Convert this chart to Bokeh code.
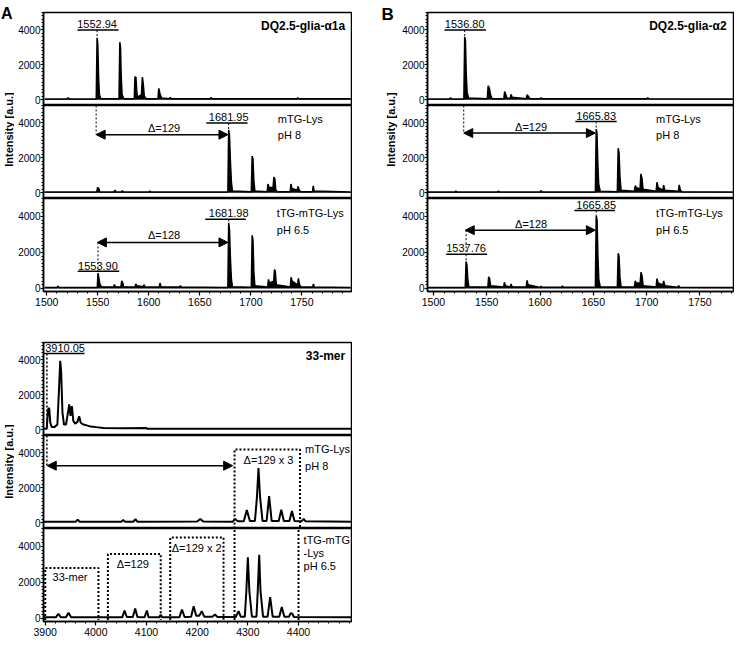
import math
from bokeh.plotting import figure
from bokeh.layouts import row, column
from bokeh.models import Range1d, FixedTicker, Label, Arrow, NormalHead
from bokeh.embed import file_html
from bokeh.resources import INLINE

FONT = "Liberation Sans"

# ---------------- axis tick values ----------------
y_ticks = [0, 2000, 4000]
y_minor = list(range(0, 5001, 200))
ab_x_ticks = [1500, 1550, 1600, 1650, 1700, 1750]
ab_x_minor = list(range(1500, 1800, 10))
c_x_ticks = [3900, 4000, 4100, 4200, 4300, 4400]
c_x_minor = list(range(3900, 4501, 20))

# ---------------- spectra (m/z, intensity) ----------------
# Panel A: DQ2.5-glia-alpha1a
a1_mz = [
    1498, 1520, 1521, 1522, 1548.5, 1549.3, 1550.0, 1550.8, 1551.6, 1553,
    1570.8, 1571.6, 1572.3, 1573.0, 1573.8, 1575.5, 1585.8, 1586.4, 1587.4, 1588.3,
    1589.2, 1592.8, 1593.7, 1594.6, 1595.6, 1597.5, 1609.0, 1609.8, 1611.0, 1612.5,
    1620, 1621, 1622, 1660, 1661, 1662, 1745, 1746, 1747, 1798]
a1_int = [
    40, 40, 120, 40, 40, 3550, 3200, 1300, 300, 60,
    60, 3300, 3000, 1300, 300, 60, 60, 1300, 1300, 400,
    150, 300, 1300, 900, 200, 60, 60, 650, 350, 100,
    60, 130, 60, 60, 120, 60, 60, 110, 60, 50]

a2_mz = [
    1498, 1549.0, 1549.8, 1551.0, 1552.0, 1566.0, 1567.0, 1568.0, 1573.0, 1574.0,
    1575.0, 1600.0, 1601.0, 1602.0, 1677.5, 1678.3, 1679.1, 1680.0, 1681.0, 1682.0,
    1700.5, 1701.3, 1702.1, 1703.0, 1704.0, 1716.0, 1716.8, 1718.0, 1721.8, 1722.6,
    1723.6, 1724.5, 1726.0, 1738.6, 1739.3, 1740.3, 1745.6, 1746.4, 1747.4, 1749.0,
    1760.5, 1761.2, 1762.0, 1798]
a2_int = [
    40, 40, 300, 250, 40, 40, 150, 40, 40, 120,
    40, 40, 100, 40, 40, 3600, 3300, 1800, 600, 100,
    60, 2100, 1950, 700, 100, 60, 500, 300, 300, 900,
    800, 150, 60, 60, 500, 250, 150, 360, 150, 60,
    60, 400, 100, 40]

a3_mz = [
    1498, 1510, 1511, 1512, 1549.5, 1550.2, 1551.0, 1552.0, 1553.5, 1565.5,
    1566.3, 1567.2, 1572.7, 1573.5, 1574.5, 1575.5, 1586.5, 1587.3, 1588.2, 1594.6,
    1595.4, 1596.4, 1610.2, 1611.0, 1612.0, 1630, 1631, 1632, 1677.5, 1678.3,
    1679.1, 1680.0, 1681.0, 1682.0, 1700.5, 1701.3, 1702.1, 1703.0, 1704.0, 1716.5,
    1717.3, 1718.2, 1722.4, 1723.2, 1724.0, 1725.0, 1738.7, 1739.5, 1740.5, 1745.9,
    1746.7, 1747.6, 1749.0, 1760.6, 1761.4, 1762.3, 1798]
a3_int = [
    50, 50, 120, 50, 50, 850, 600, 250, 100, 80,
    220, 80, 100, 420, 300, 100, 80, 250, 150, 100,
    200, 80, 80, 300, 100, 80, 150, 80, 50, 3650,
    3300, 1700, 500, 100, 60, 2950, 2700, 900, 150, 80,
    500, 300, 400, 1050, 950, 200, 80, 620, 400, 200,
    560, 250, 80, 80, 250, 80, 50]

# Panel B: DQ2.5-glia-alpha2
b1_mz = [
    1494, 1515, 1516, 1517, 1528.5, 1529.3, 1530.0, 1530.8, 1531.6, 1533.0,
    1550.5, 1551.3, 1552.3, 1553.5, 1555.0, 1566.0, 1566.8, 1567.8, 1569.0, 1572.0,
    1572.8, 1573.8, 1587.0, 1587.8, 1589.0, 1590.5, 1600, 1601, 1602, 1700,
    1701, 1702, 1782]
b1_int = [
    40, 40, 110, 40, 40, 3600, 3400, 1400, 400, 100,
    60, 800, 700, 300, 60, 60, 470, 300, 80, 80,
    300, 150, 60, 280, 200, 60, 60, 100, 60, 60,
    100, 60, 40]

b2_mz = [
    1494, 1520, 1521, 1522, 1560, 1561, 1562, 1600, 1601, 1602,
    1651.9, 1652.7, 1653.4, 1654.2, 1655.0, 1656.5, 1672.5, 1673.3, 1674.1, 1675.0,
    1676.0, 1688.5, 1689.3, 1690.3, 1693.8, 1694.6, 1695.6, 1696.6, 1708.9, 1709.7,
    1710.7, 1715.2, 1716.0, 1717.0, 1729.8, 1730.6, 1731.6, 1733.0, 1782]
b2_int = [
    40, 40, 90, 40, 40, 100, 40, 40, 110, 40,
    40, 3650, 3400, 1700, 500, 80, 60, 2550, 2300, 900,
    150, 80, 400, 300, 200, 1080, 850, 200, 80, 600,
    300, 150, 430, 150, 80, 450, 150, 60, 40]

b3_mz = [
    1494, 1529.8, 1530.6, 1531.4, 1532.2, 1533.2, 1551.0, 1551.8, 1552.7, 1553.6,
    1565.8, 1566.6, 1567.5, 1572.0, 1572.8, 1573.7, 1587.0, 1587.8, 1588.8, 1600,
    1601, 1602, 1620, 1621, 1622, 1651.9, 1652.7, 1653.5, 1654.3, 1655.1,
    1656.5, 1672.5, 1673.3, 1674.1, 1675.0, 1676.0, 1688.5, 1689.3, 1690.3, 1693.9,
    1694.7, 1695.7, 1696.7, 1708.9, 1709.7, 1710.7, 1715.2, 1716.0, 1717.0, 1729,
    1730, 1731, 1782]
b3_int = [
    50, 50, 1500, 1300, 500, 100, 80, 650, 550, 150,
    80, 330, 150, 80, 250, 100, 80, 450, 200, 60,
    120, 60, 60, 130, 60, 60, 4050, 3800, 1800, 500,
    80, 80, 1950, 1800, 600, 100, 80, 420, 300, 300,
    900, 700, 150, 80, 550, 300, 200, 420, 150, 60,
    150, 60, 50]

# Panel C: 33-mer
c1_mz = [
    3893, 3903, 3905, 3906.5, 3908, 3910, 3913, 3918, 3924, 3927.5,
    3929.6, 3931.5, 3934, 3937, 3941, 3944.5, 3947.4, 3950, 3952.6, 3955.5,
    3959, 3963.5, 3967.1, 3970, 3975, 3982, 3990, 4000, 4015, 4050,
    4100, 4101, 4505]
c1_int = [
    60, 60, 900, 1250, 1200, 400, 150, 150, 300, 2500,
    3950, 3300, 1000, 300, 300, 900, 1450, 800, 1350, 500,
    350, 450, 770, 400, 300, 250, 180, 150, 100, 80,
    100, 60, 60]

c2_mz = [
    3893, 3960, 3964, 3968, 4050, 4054, 4058, 4074, 4078, 4082,
    4200, 4206, 4212, 4270, 4275, 4280, 4292, 4298, 4304, 4314,
    4318, 4321, 4324, 4329, 4337, 4342, 4347, 4361, 4366, 4371,
    4382, 4387, 4392, 4406, 4410, 4414, 4505]
c2_int = [
    60, 60, 180, 60, 60, 150, 60, 60, 200, 60,
    70, 220, 70, 60, 220, 80, 80, 730, 100, 100,
    1500, 3140, 1500, 100, 100, 1530, 100, 100, 750, 100,
    100, 670, 100, 80, 220, 80, 60]

c3_mz = [
    3893, 3921, 3926, 3931, 3941, 3946, 3951, 4052, 4056.6, 4061,
    4073, 4077.6, 4082, 4096, 4100.7, 4104, 4125, 4128, 4131, 4165,
    4170, 4175, 4188, 4193, 4198, 4204, 4209, 4214, 4230, 4235,
    4240, 4276, 4281.6, 4286, 4294, 4297, 4300, 4303, 4308, 4317,
    4319.5, 4322.4, 4325, 4330, 4339, 4344, 4349, 4362, 4367, 4372,
    4381, 4385, 4388, 4391, 4505]
c3_int = [
    60, 60, 260, 60, 60, 310, 60, 60, 440, 80,
    80, 550, 80, 60, 440, 60, 60, 200, 60, 70,
    500, 80, 100, 680, 150, 150, 400, 100, 100, 220,
    80, 80, 400, 100, 100, 1500, 3400, 1500, 100, 100,
    1500, 3540, 1500, 100, 100, 1180, 100, 100, 630, 100,
    100, 300, 250, 80, 60]

# ---------------- layout constants ----------------
Y_HI = 5000
Y_LO_UPPER = -330     # top / middle rows: room for the "0" tick label
Y_LO_BOTTOM = -170    # bottom rows
FH = 93
A_X = (1496.8, 1798.7)
B_X = (1494.4, 1781.5)
C_X = (3896.6, 4504.6)


def style_axis(ax):
    ax.axis_line_color = "black"
    ax.axis_line_width = 1.5
    ax.major_tick_line_color = "black"
    ax.major_tick_line_width = 1.2
    ax.minor_tick_line_color = "black"
    ax.minor_tick_line_width = 1
    ax.major_tick_out = 3
    ax.major_tick_in = 0
    ax.minor_tick_out = 2
    ax.minor_tick_in = 0
    ax.major_label_standoff = 0
    ax.major_label_text_font = FONT
    ax.major_label_text_font_size = "10px"
    ax.major_label_text_color = "black"


def sub_fig(xr, fw, left, top=0, bottom=0, xt=None, xm=None):
    ylo = Y_LO_BOTTOM if xt else Y_LO_UPPER
    p = figure(frame_width=fw, frame_height=FH,
               x_range=Range1d(*xr), y_range=Range1d(ylo, Y_HI),
               output_backend="svg", toolbar_location=None,
               x_axis_location="below" if xt else None,
               min_border_left=left, min_border_right=1,
               min_border_top=top, min_border_bottom=bottom)
    p.xgrid.visible = False
    p.ygrid.visible = False
    p.outline_line_color = "black"
    p.outline_line_width = 1.5
    p.border_fill_color = "white"
    ya = p.yaxis[0]
    ya.ticker = FixedTicker(ticks=y_ticks, minor_ticks=y_minor)
    style_axis(ya)
    if xt:
        xa = p.xaxis[0]
        xa.ticker = FixedTicker(ticks=xt, minor_ticks=xm)
        style_axis(xa)
        xa.major_tick_out = 4
        xa.major_label_standoff = 2
        xa.major_label_text_font_size = "10.5px"
    return p


def txt(p, x, y, s, size=11, bold=False, align="center", baseline="middle", angle=0):
    p.add_layout(Label(x=x, y=y, text=s, text_font=FONT, text_font_size=f"{size}px",
                       text_font_style="bold" if bold else "normal",
                       text_align=align, text_baseline=baseline, angle=angle,
                       text_color="black"))


def spectrum(p, mz, inten, fill=True, lw=1.5):
    if fill:
        p.varea(x=mz, y1=0, y2=inten, fill_color="black")
    p.line(mz, inten, line_color="black", line_width=lw)


def dots(p, x0, y0, x1, y1, lw=1, dash="2 2"):
    p.segment(x0=[x0], y0=[y0], x1=[x1], y1=[y1], line_color="black",
              line_width=lw, line_dash=dash)


def underline(p, x0, x1, y):
    p.segment(x0=[x0], y0=[y], x1=[x1], y1=[y], line_color="black", line_width=1.5)


def peak_label(p, x, y_text, s, ul_x0, ul_x1, ul_y, peak_y):
    txt(p, x, y_text, s)
    underline(p, ul_x0, ul_x1, ul_y)
    dots(p, x, ul_y, x, peak_y)


def darrow(p, x0, x1, y):
    p.add_layout(Arrow(start=NormalHead(size=9, fill_color="black", line_color="black"),
                       end=NormalHead(size=9, fill_color="black", line_color="black"),
                       x_start=x0, y_start=y, x_end=x1, y_end=y,
                       line_color="black", line_width=1.5))


def dbox(p, x0, x1, top, bottom):
    p.multi_line(xs=[[x0, x0, x1, x1]], ys=[[bottom, top, top, bottom]],
                 line_color="black", line_width=2, line_dash="2 2")


# ---------------- Panel A ----------------
A1 = sub_fig(A_X, 308, 29, top=12)
spectrum(A1, a1_mz, a1_int)
peak_label(A1, 1549.3, 4330, "1552.94", 1530.1, 1570.3, 3990, 3550)
txt(A1, 1792.5, 4240, "DQ2.5-glia-α1a", size=12, bold=True, align="right")

A2 = sub_fig(A_X, 308, 29)
spectrum(A2, a2_mz, a2_int)
dots(A2, 1548.4, Y_HI, 1548.4, 3330)
darrow(A2, 1548.4, 1677.6, 3330)
txt(A2, 1615, 3720, "Δ=129")
peak_label(A2, 1678.3, 4330, "1681.95", 1656.3, 1696.8, 3990, 3600)
txt(A2, 1726.5, 4230, "mTG-Lys", align="left")
txt(A2, 1726.5, 3330, "pH 8", align="left")

A3 = sub_fig(A_X, 308, 29, bottom=24, xt=ab_x_ticks, xm=ab_x_minor)
spectrum(A3, a3_mz, a3_int)
peak_label(A3, 1678.3, 4180, "1681.98", 1655.3, 1695.1, 3840, 3650)
darrow(A3, 1549.6, 1677.6, 2560)
txt(A3, 1615, 2950, "Δ=128")
dots(A3, 1550.2, 2560, 1550.2, 960)
txt(A3, 1550.2, 1270, "1553.90")
underline(A3, 1530.4, 1571, 960)
txt(A3, 1725.5, 4200, "tTG-mTG-Lys", align="left")
txt(A3, 1725.5, 3270, "pH 6.5", align="left")
txt(A3, 1797.7, -1132, "m/z", size=12, bold=True, align="right")

# ---------------- Panel C ----------------
C1 = sub_fig(C_X, 308, 29, top=27)
spectrum(C1, c1_mz, c1_int, fill=False, lw=2)
txt(C1, 3900, 4690, "3910.05", align="left")
underline(C1, 3896.6, 3977.6, 4370)
dots(C1, 3903.3, 4370, 3903.3, 0, lw=1.5)
txt(C1, 4492.2, 4240, "33-mer", size=12, bold=True, align="right")
txt(C1, 3850, 5688, "C", size=17, bold=True, align="left", baseline="top")

C2 = sub_fig(C_X, 308, 29)
spectrum(C2, c2_mz, c2_int, fill=False, lw=2)
dots(C2, 3903.3, Y_HI, 3903.3, 3270, lw=1.5)
darrow(C2, 3904, 4270, 3270)
dbox(C2, 4273.7, 4403, 4200, Y_LO_UPPER)
txt(C2, 4340.8, 3600, "Δ=129 x 3")
txt(C2, 4413, 4200, "mTG-Lys", align="left")
txt(C2, 4413, 3230, "pH 8", align="left")

C3 = sub_fig(C_X, 308, 29, bottom=24, xt=c_x_ticks, xm=c_x_minor)
spectrum(C3, c3_mz, c3_int, fill=False, lw=2)
dbox(C3, 3900, 4005, 2800, -80)
txt(C3, 3949, 2290, "33-mer")
dbox(C3, 4023.7, 4128, 3580, -80)
txt(C3, 4073, 3020, "Δ=129")
dbox(C3, 4146.7, 4252, 4500, -80)
txt(C3, 4199, 3910, "Δ=129 x 2")
dots(C3, 4273.7, -80, 4273.7, Y_HI, lw=2)
dots(C3, 4400, -80, 4400, Y_HI, lw=2)
txt(C3, 4410, 4370, "tTG-mTG", align="left")
txt(C3, 4410, 3630, "-Lys", align="left")
txt(C3, 4410, 2930, "pH 6.5", align="left")
txt(C3, 4496, -1020, "m/z", size=12, bold=True, align="right")

# ---------------- Panel B ----------------
B1 = sub_fig(B_X, 306, 29, top=12)
spectrum(B1, b1_mz, b1_int)
peak_label(B1, 1529.3, 4330, "1536.80", 1510.3, 1549.4, 3990, 3600)
txt(B1, 1775, 4200, "DQ2.5-glia-α2", size=12, bold=True, align="right")

B2 = sub_fig(B_X, 306, 29)
spectrum(B2, b2_mz, b2_int)
dots(B2, 1528.4, Y_HI, 1528.4, 3420)
darrow(B2, 1528.4, 1651.9, 3420)
txt(B2, 1591.6, 3780, "Δ=129")
peak_label(B2, 1652.7, 4380, "1665.83", 1633.1, 1671.9, 4080, 3650)
txt(B2, 1708.8, 4230, "mTG-Lys", align="left")
txt(B2, 1708.8, 3330, "pH 8", align="left")

B3 = sub_fig(B_X, 306, 29, bottom=24, xt=ab_x_ticks, xm=ab_x_minor)
spectrum(B3, b3_mz, b3_int)
peak_label(B3, 1652.7, 4640, "1665.85", 1632.2, 1670.3, 4330, 4050)
darrow(B3, 1529.8, 1651.9, 3240)
txt(B3, 1591.6, 3580, "Δ=128")
dots(B3, 1530.6, 3240, 1530.6, 1900)
peak_label(B3, 1530.6, 2240, "1537.76", 1511.9, 1550.3, 1900, 1500)
txt(B3, 1708.8, 4200, "tTG-mTG-Lys", align="left")
txt(B3, 1708.8, 3240, "pH 6.5", align="left")
txt(B3, 1781, -1132, "m/z", size=12, bold=True, align="right")


# ---------------- side label strips ----------------
def strip(w, h):
    s = figure(width=w, height=h, x_range=Range1d(0, w), y_range=Range1d(h, 0),
               output_backend="svg", toolbar_location=None,
               x_axis_location=None, y_axis_location=None, min_border=0)
    s.outline_line_color = None
    s.xgrid.visible = False
    s.ygrid.visible = False
    s.border_fill_color = "white"
    return s


labL = strip(14, 645)
txt(labL, 0.5, 4, "A", size=16, bold=True, align="left", baseline="top")
txt(labL, 8, 129, "Intensity [a.u.]", size=11, bold=True, angle=math.pi / 2)
txt(labL, 8, 461, "Intensity [a.u.]", size=11, bold=True, angle=math.pi / 2)

labB = strip(46, 315)
txt(labB, 29, 4, "B", size=17, bold=True, align="left", baseline="top")
txt(labB, 38.5, 129, "Intensity [a.u.]", size=11, bold=True, angle=math.pi / 2)

layout = row(labL, column(A1, A2, A3, C1, C2, C3), labB, column(B1, B2, B3))

open("out.html", "w").write(file_html(layout, INLINE))
